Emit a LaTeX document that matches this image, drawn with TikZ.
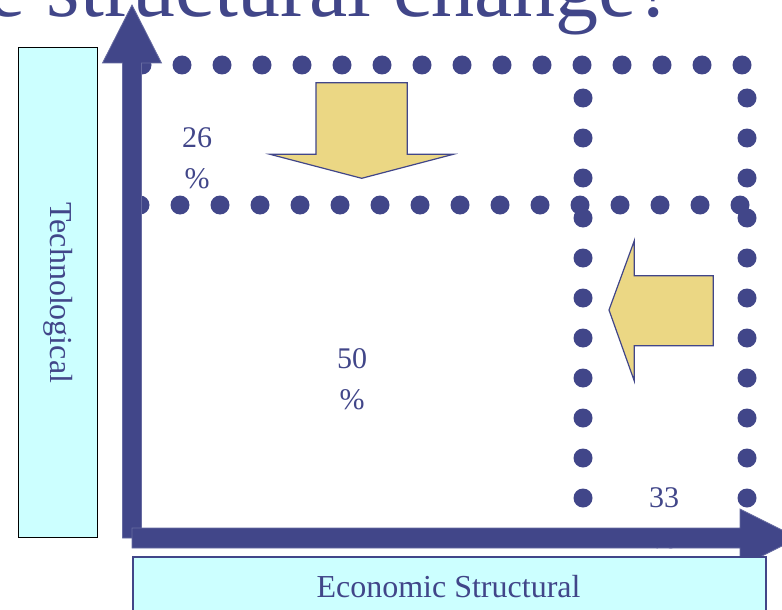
\documentclass[tikz,border=0pt]{standalone}
\usepackage{fontspec}
\setmainfont{Liberation Serif}
\definecolor{dkblue}{RGB}{65,70,137}
\definecolor{lcyan}{RGB}{204,255,255}
\definecolor{ygold}{RGB}{235,215,132}
\begin{document}
\begin{tikzpicture}[x=1pt,y=-1pt,
  dotc/.style={fill=dkblue},
  axisarrow/.style={fill=dkblue,draw=dkblue!80!white,line width=0.8pt},
  bigarrow/.style={fill=ygold,draw=dkblue,line width=1.2pt,line join=miter},
  lbl/.style={text=dkblue,font=\fontsize{30}{41}\selectfont,align=center,inner sep=0pt},
  axislabel/.style={text=dkblue,font=\fontsize{32}{38}\selectfont,inner sep=0pt},
]
\useasboundingbox (0,0) rectangle (782,610);
% title (cut off at top)
\node[anchor=base west,text=dkblue,font=\fontsize{86}{94}\selectfont,inner sep=0pt] (title) at (-13,17) {e structural change?};
% dotted rectangles
\foreach \i in {0,...,15} {
  \fill[dotc] (142+40*\i,65) circle (9.5pt);
  \fill[dotc] (140+40*\i,205) circle (9.5pt);
}
\foreach \j in {0,...,12} {
  \fill[dotc] (583,98+40*\j) circle (9.5pt);
  \fill[dotc] (747,98+40*\j) circle (9.5pt);
}
% yellow block arrows
\draw[bigarrow] (316,82.7) -- (407.3,82.7) -- (407.3,154.3) -- (453.3,154.3) -- (361.7,178.3) -- (270,154.3) -- (316,154.3) -- cycle;
\draw[bigarrow] (713.3,275.7) -- (634.3,275.7) -- (634.3,240.7) -- (609,310) -- (634.3,381) -- (634.3,345.7) -- (713.3,345.7) -- cycle;
% percentages
\node[lbl] (p26) at (197,158) {26\\\%};
\node[lbl] (p50) at (352,379) {50\\\%};
\node[lbl] (p33) at (664,518) {33\\\%};
% axes
\draw[axisarrow] (122.5,538) -- (122.5,63) -- (102.5,63) -- (132,5) -- (161.5,63) -- (141.5,63) -- (141.5,538) -- cycle;
\draw[axisarrow] (132,528) -- (740,528) -- (740,509) -- (798,538) -- (740,567) -- (740,548) -- (132,548) -- cycle;
% axis label boxes
\node[draw=black,fill=lcyan,line width=1.5pt,minimum width=79pt,minimum height=490pt,inner sep=0pt] (tech) at (58,292.7) {};
\node[axislabel,rotate=-90] (techtext) at (tech.center) {Technological};
\node[draw=dkblue,fill=lcyan,line width=1.5pt,minimum width=633pt,minimum height=80pt,inner sep=0pt,anchor=north west] (econ) at (132,556) {};
\node[axislabel,anchor=base] (econtext) at (448.5,597) {Economic Structural};
\end{tikzpicture}
\end{document}
